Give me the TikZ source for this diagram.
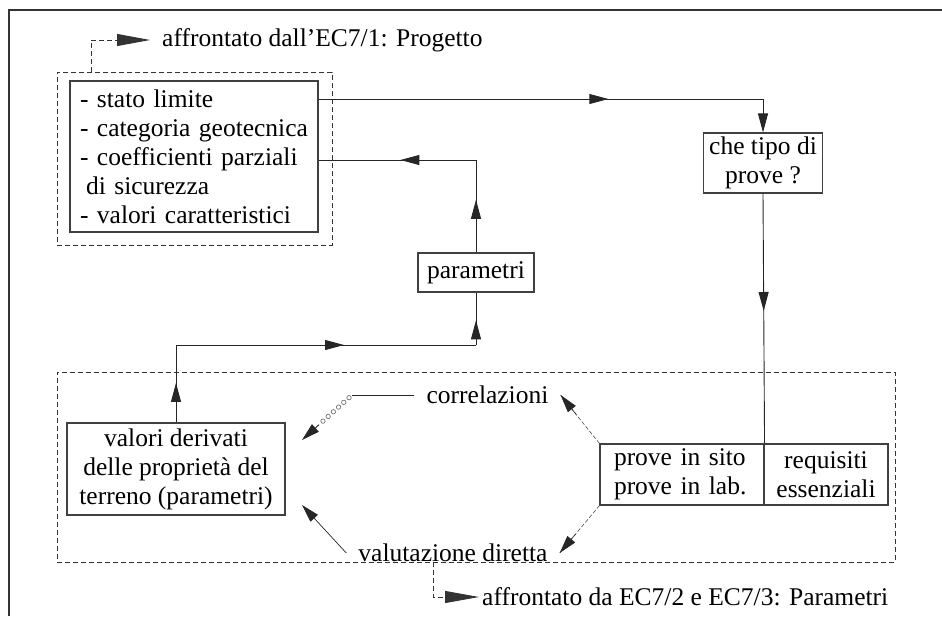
\documentclass[tikz,border=0pt]{standalone}
\usepackage{fontspec}
\setmainfont{Liberation Serif}
\usetikzlibrary{arrows.meta,decorations.markings,calc}
\begin{document}
\begin{tikzpicture}[x=1pt,y=-1pt,
  font=\fontsize{25.5}{29}\selectfont,
  box/.style={draw=black!75, line width=1.1pt, inner sep=0pt, align=center},
  grpbox/.style={draw=black!80, line width=0.8pt, dash pattern=on 5pt off 3pt, inner sep=0pt},
  grpline/.style={draw=black!80, line width=0.8pt, dash pattern=on 5pt off 3pt},
  conn/.style={draw=black!85, line width=0.9pt},
  thinconn/.style={draw=black!70, line width=0.6pt, dash pattern=on 4pt off 2pt},
  lbl/.style={inner ysep=0pt},
  tipend/.style={-{Triangle[length=19pt,width=10pt]}},
  marr/.style={postaction={decorate}, decoration={markings, mark=at position #1 with {\arrow{Triangle[length=19pt,width=10pt]}}}},
  ]
\useasboundingbox (0,0) rectangle (942,616);
% outer frame
\draw[line width=1.3pt, black!80] (9,616) -- (9,10) -- (942,10);

% nodes
\node[box, minimum width=248pt, minimum height=151pt, text width=228pt, align=left] (cond) at (194,156.5)
  {- stato limite\\- categoria geotecnica\\- coefficienti parziali\\\hspace*{6pt}di sicurezza\\- valori caratteristici};
\node[grpbox, minimum width=275pt, minimum height=173pt] (grp1) at (194.5,158.5) {};
\node[box, minimum width=119pt, minimum height=60pt] (che) at (763,163) {che tipo di\\prove ?};
\node[box, minimum width=116pt, minimum height=39pt] (par) at (476,272.5) {parametri};
\node[box, minimum width=218pt, minimum height=92pt] (val) at (176,469) {valori derivati\\delle proprietà del\\terreno (parametri)};
\node[box, minimum width=164pt, minimum height=61pt, text width=136pt, align=left] (prv) at (682,474.5) {prove in sito\\prove in lab.};
\node[box, minimum width=124pt, minimum height=61pt] (req) at (826,474.5) {requisiti\\essenziali};
\node[grpbox, minimum width=838pt, minimum height=190pt] (grp2) at (476,467) {};
\node[lbl, inner xsep=12pt] (corr) at (487.5,395) {correlazioni};
\node[lbl, inner xsep=12pt] (valu) at (453,553) {valutazione diretta};
\node[lbl, anchor=west, inner xsep=12pt] (lab1) at (150,40) {affrontato dall'EC7/1: Progetto};
\node[lbl, anchor=west, inner xsep=3pt] (lab2) at (479,597) {affrontato da EC7/2 e EC7/3: Parametri};

% main connectors
\coordinate (c1) at (763,99);
\draw[conn, marr=0.652] (cond.east |- c1) -- (c1);
\draw[conn, tipend] (c1) -- (che.north);
\coordinate (c2) at (476,160);
\draw[conn, marr=0.57] (par.north) -- (c2);
\draw[conn, marr=0.48] (c2) -- (cond.east |- c2);
\coordinate (c3) at (176,345);
\draw[conn, marr=0.51] (val.north) -- (c3);
\draw[conn, marr=0.56] (c3) -- (par.south |- c3);
\draw[conn, marr=0.47] (par.south |- c3) -- (par.south);
\draw[conn, marr=0.47] (che.south) -- (prv.north east);

% diagonal connectors
\draw[thinconn] (prv.north west) -- (corr.east);
\draw[conn, line width=0.6pt, -{Triangle[length=18pt,width=10pt]}] ($(prv.north west)!0.6!(corr.east)$) -- (corr.east);
\draw[thinconn] (prv.south west) -- (valu.east);
\draw[conn, line width=0.6pt, -{Triangle[length=18pt,width=10pt]}] ($(prv.south west)!0.6!(valu.east)$) -- (valu.east);
\coordinate (k1) at (352,395);
\coordinate (tc) at (302,440);
\coordinate (tv) at (302,505);
\draw[conn, line width=0.7pt] (corr.west) -- (k1);
\path[decoration={markings, mark=between positions 0.06 and 0.6 step 7pt with {\draw[black!55, line width=0.7pt] (0,0) circle (2.2pt);}}, decorate] (k1) -- (tc);
\draw[conn, -{Triangle[length=18pt,width=10pt]}] ($(k1)!0.66!(tc)$) -- (tc);
\draw[conn, line width=0.7pt, -{Triangle[length=18pt,width=10pt]}] (valu.west) -- (tv);

% group labels
\coordinate (d1) at (91,40);
\draw[grpline, -{Triangle[length=33pt,width=12pt]}] (grp1.north -| d1) -- (d1) -- (lab1.west);
\coordinate (d2) at (433,597);
\draw[grpline, -{Triangle[length=34pt,width=12pt]}] (grp2.south -| d2) -- (d2) -- (lab2.west);
\end{tikzpicture}
\end{document}
